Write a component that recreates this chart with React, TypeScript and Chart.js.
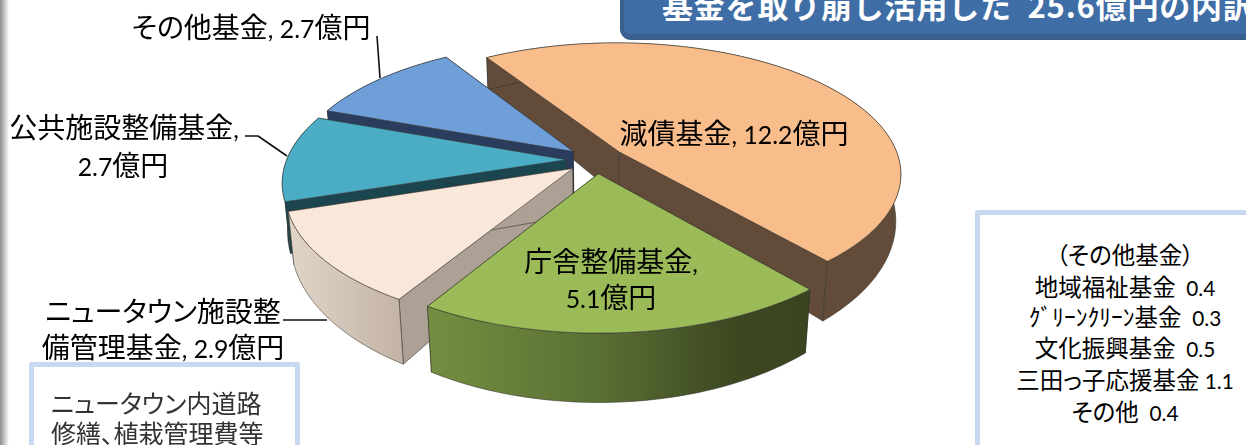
import React, { useEffect, useRef } from "react";
import { Chart, registerables } from "chart.js";

Chart.register(...registerables);

// Fund withdrawals, in 億円
const fundNames = ["減債基金", "庁舎整備基金", "ニュータウン施設整備管理基金", "公共施設整備基金", "その他基金"];
const fundValues = [12.2, 5.1, 2.9, 2.7, 2.7];
const topColours = ["#F8BD8B", "#9BBB59", "#F9E8D9", "#4BACC6", "#6F9FD9"];
const sideColours = ["#624B38", "#3C4720", "#ADA095", "#1B4650", "#2B3D5F"];
const otherFundLines = ["（その他基金）", "地域福祉基金  0.4", "ｸﾞﾘｰﾝｸﾘｰﾝ基金  0.3", "文化振興基金  0.5", "三田っ子応援基金 1.1", "その他  0.4"];
const noteLines = ["ニュータウン内道路", "修繕、植栽管理費等"];
const titleText = "基金を取り崩し活用した  25.6億円の内訳";

// Back-to-front painting order of the slices
const paintOrder = [0, 4, 3, 2, 1];

// Perspective of the tilted pie
const CX = 596, CY = 160, SCALE_X = 280, SCALE_Y = 129, TILT = 0.16, EXPLODE = 0.105;

const project = (u: number, v: number) => {
  const w = 1 - TILT * v;
  return { x: CX + (SCALE_X * u) / w, y: CY + (SCALE_Y * v) / w };
};
// The same point on the underside of the slice
const drop = (p: { x: number; y: number }) => {
  const d = 32 + 0.135 * (p.y - 56);
  return { x: p.x - ((p.x - CX) * d) / 2900, y: p.y + d };
};

type Pt = { x: number; y: number };
const tracePath = (ctx: CanvasRenderingContext2D, pts: Pt[], close = true) => {
  ctx.beginPath();
  pts.forEach((p, i) => (i ? ctx.lineTo(p.x, p.y) : ctx.moveTo(p.x, p.y)));
  if (close) ctx.closePath();
};

const wallFill = (ctx: CanvasRenderingContext2D, i: number, pts: Pt[]) => {
  const xs = pts.map((p) => p.x);
  const x0 = Math.min(...xs), x1 = Math.max(...xs);
  if (i === 1 || i === 2) {
    const g = ctx.createLinearGradient(x0, 0, x1, 0);
    if (i === 1) {
      g.addColorStop(0, "#748F40");
      g.addColorStop(0.45, "#5A6F34");
      g.addColorStop(0.8, "#3D4821");
      g.addColorStop(1, "#3A4420");
    } else {
      g.addColorStop(0, "#E2D5C8");
      g.addColorStop(1, "#C2B3A5");
    }
    return g;
  }
  return sideColours[i];
};

const pie3d = {
  id: "pie3d",
  beforeDatasetsDraw(chart: any) {
    const ctx: CanvasRenderingContext2D = chart.ctx;
    const arcs = chart.getDatasetMeta(0).data;
    ctx.save();
    ctx.lineJoin = "round";
    ctx.lineWidth = 0.8;
    ctx.strokeStyle = "rgba(50,50,45,0.7)";
    for (const i of paintOrder) {
      const { startAngle, endAngle } = arcs[i];
      const mid = (startAngle + endAngle) / 2;
      const ou = Math.cos(mid) * EXPLODE, ov = Math.sin(mid) * EXPLODE;
      const rim: Pt[] = [];
      const steps = 64;
      for (let s = 0; s <= steps; s++) {
        const a = startAngle + ((endAngle - startAngle) * s) / steps;
        rim.push(project(ou + Math.cos(a), ov + Math.sin(a)));
      }
      const apex = project(ou, ov);
      const rimLow = rim.map(drop);
      const apexLow = drop(apex);

      // Cut faces running from the centre to the rim
      for (const [p, q] of [[rim[0], rimLow[0]], [rim[steps], rimLow[steps]]]) {
        tracePath(ctx, [apex, p, q, apexLow]);
        ctx.fillStyle = sideColours[i];
        ctx.fill();
        ctx.stroke();
      }

      // Curved outer wall
      const wall = [...rim, ...[...rimLow].reverse()];
      tracePath(ctx, wall);
      ctx.fillStyle = wallFill(ctx, i, wall);
      ctx.fill();
      ctx.stroke();

      // Top face
      tracePath(ctx, [apex, ...rim]);
      ctx.fillStyle = topColours[i];
      ctx.fill();
      ctx.stroke();
    }

    // Leader lines to the outside labels
    ctx.strokeStyle = "#111";
    ctx.lineWidth = 1.6;
    for (const line of [
      [{ x: 377, y: 36 }, { x: 380, y: 78 }],
      [{ x: 245, y: 136 }, { x: 258, y: 136 }, { x: 287, y: 156 }],
      [{ x: 283, y: 320 }, { x: 327, y: 320 }],
    ]) {
      tracePath(ctx, line, false);
      ctx.stroke();
    }
    ctx.restore();
    return false;
  },
};

const JP = '"Noto Sans CJK JP", sans-serif';

// Latin and digits are set a little smaller than the surrounding kanji
const Runs = ({ text }: { text: string }) => (
  <>
    {text.split(/([\x20-\x7e]+)/).map((t, i) =>
      /[\x20-\x7e]/.test(t) ? (
        <span key={i} style={{ fontFamily: "Lato, sans-serif", fontSize: "0.885em" }}>{t}</span>
      ) : (
        <span key={i}>{t}</span>
      )
    )}
  </>
);

const labelText = (i: number) => `${fundNames[i]}, ${fundValues[i].toFixed(1)}億円`;

const Label = ({ x, y, text, size = 28 }: { x: number; y: number; text: string; size?: number }) => (
  <div
    style={{
      position: "absolute",
      left: x,
      top: y,
      transform: "translate(-50%, -50%)",
      whiteSpace: "pre",
      fontFamily: JP,
      fontSize: size,
      fontWeight: 400,
      fontFeatureSettings: '"palt"',
      lineHeight: 1,
      color: "#000",
    }}
  >
    <Runs text={text} />
  </div>
);

export default function App() {
  const ref = useRef<HTMLCanvasElement>(null);

  useEffect(() => {
    const chart = new Chart(ref.current!, {
      type: "pie",
      data: {
        labels: fundNames,
        datasets: [{ data: fundValues, backgroundColor: topColours }],
      },
      options: {
        responsive: false,
        animation: false,
        rotation: -32.1,
        plugins: { legend: { display: false }, tooltip: { enabled: false } },
      },
      plugins: [pie3d],
    } as any);
    return () => chart.destroy();
  }, []);

  const split = (i: number, at: number) => {
    const t = labelText(i);
    return [t.slice(0, at), t.slice(at).trim()];
  };
  const [pub1, pub2] = split(3, 9);
  const [nt1, nt2] = split(2, 9);
  const [hall1, hall2] = split(1, 7);

  return (
    <div style={{ position: "fixed", left: 0, top: 0, width: 1246, height: 445, overflow: "hidden", background: "#fff" }}>
      <canvas ref={ref} width={1246} height={445} style={{ position: "absolute", left: 0, top: 0 }} />

      <div style={{ position: "absolute", left: 0, top: 0, width: 9, height: 445, background: "linear-gradient(to right, #8c8c8c, #ffffff)" }} />

      <div
        style={{
          position: "absolute", left: 620, top: -20, width: 700, height: 60, boxSizing: "border-box",
          background: "#3F6EA6", borderBottom: "6px solid #3A6090", borderLeft: "4px solid #3A6090", borderRadius: 11,
        }}
      />
      <div
        style={{
          position: "absolute", left: 662, top: -10, whiteSpace: "pre", fontFamily: JP, fontWeight: 700,
          fontSize: 31, lineHeight: "30px", letterSpacing: 0.8, color: "#fff",
        }}
      >
        {titleText}
      </div>

      <Label x={251} y={27} text={labelText(4)} />
      <Label x={124} y={127} text={pub1} />
      <Label x={123} y={165} text={pub2} />
      <Label x={163} y={310} text={nt1} />
      <Label x={163} y={347} text={nt2} />
      <Label x={734} y={133} text={labelText(0)} />
      <Label x={611} y={261} text={hall1} />
      <Label x={611} y={297} text={hall2} />

      <div style={{ position: "absolute", left: 29, top: 362, width: 271, height: 120, boxSizing: "border-box", border: "5px solid #C6D9F1", borderRadius: 2, background: "#fff" }} />
      <div style={{ position: "absolute", left: 51, top: 387, fontFamily: JP, fontSize: 25, lineHeight: "30px", color: "#333", whiteSpace: "pre", fontWeight: 400, fontFeatureSettings: '"palt"' }}>
        {noteLines.map((l) => (
          <div key={l}>{l}</div>
        ))}
      </div>

      <div style={{ position: "absolute", left: 975, top: 210, width: 300, height: 260, boxSizing: "border-box", border: "5px solid #C6D9F1", borderRadius: 2, background: "#fff" }} />
      {otherFundLines.map((l, i) => (
        <Label key={l} x={1125} y={[255, 287, 317, 348, 380, 412][i]} text={l} size={23.5} />
      ))}
    </div>
  );
}
